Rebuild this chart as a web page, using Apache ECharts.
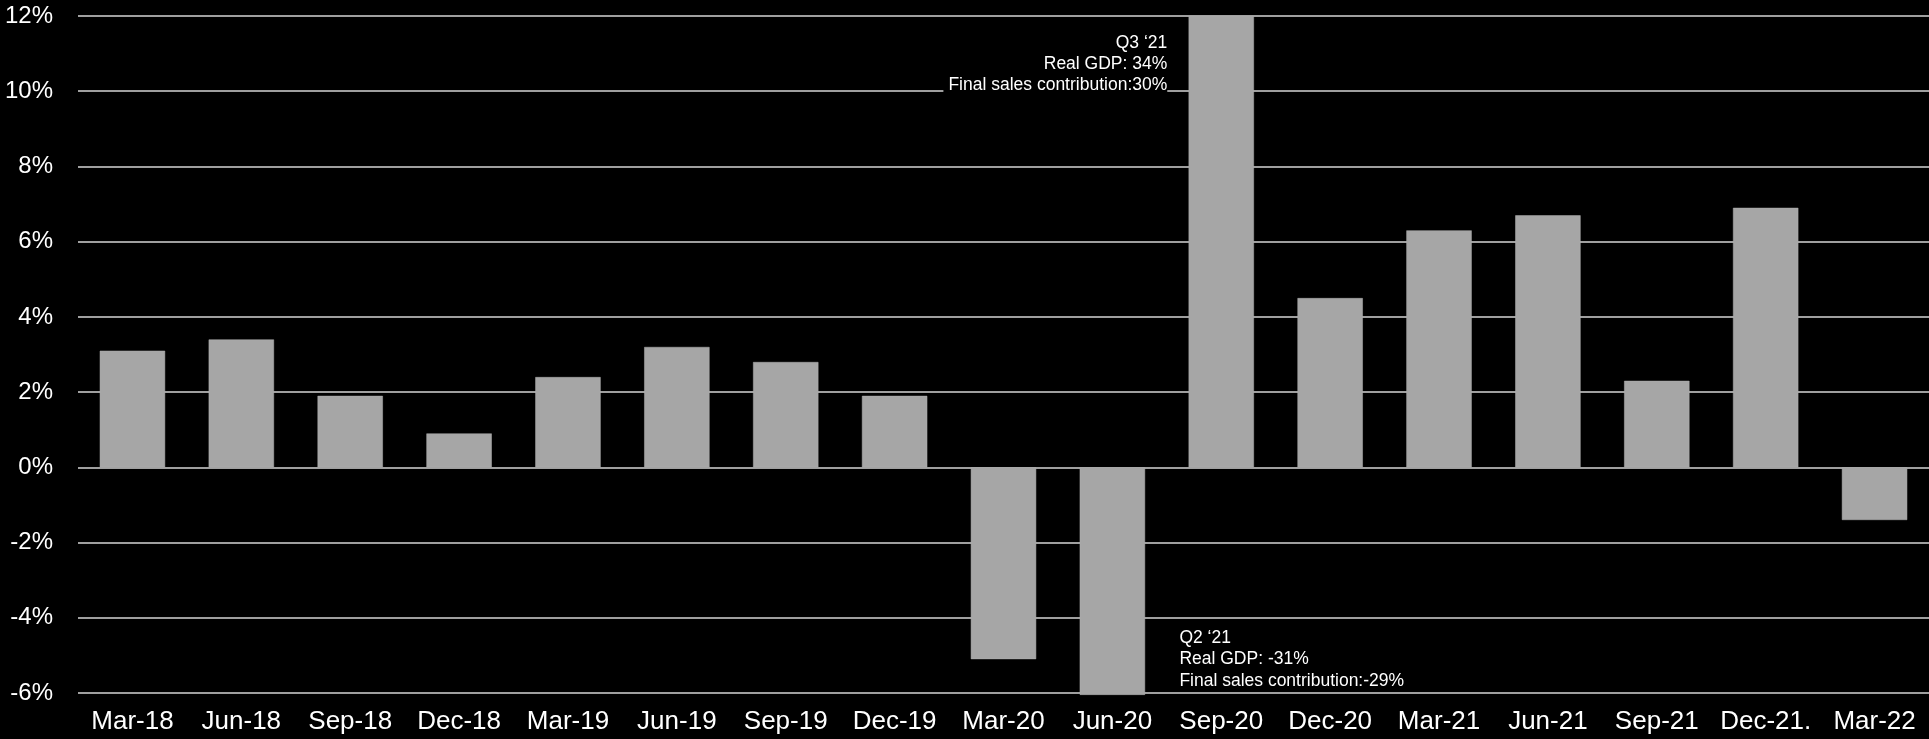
<!DOCTYPE html>
<html>
<head>
<meta charset="utf-8">
<title>Real GDP</title>
<script src="https://cdn.jsdelivr.net/npm/echarts@6/dist/echarts.min.js"></script>
<style>
  html, body { margin: 0; padding: 0; background: #000; }
  #chart { width: 1929px; height: 739px; }
</style>
</head>
<body>
<div id="chart"></div>
<script>
// quarters on the x axis
var quarters = ['Mar-18', 'Jun-18', 'Sep-18', 'Dec-18', 'Mar-19', 'Jun-19', 'Sep-19', 'Dec-19',
  'Mar-20', 'Jun-20', 'Sep-20', 'Dec-20', 'Mar-21', 'Jun-21', 'Sep-21', 'Dec-21.', 'Mar-22'];
// real GDP growth, % (Jun-20 / Sep-20 run off the chart)
var gdp = [3.1, 3.4, 1.9, 0.9, 2.4, 3.2, 2.8, 1.9, -5.1, -6.05, 12, 4.5, 6.3, 6.7, 2.3, 6.9, -1.4];

var noteHigh = "Q3 \u201821\nReal GDP: 34%\nFinal sales contribution:30%";
var noteLow = "Q2 \u201821\nReal GDP: -31%\nFinal sales contribution:-29%";

var myChart = echarts.init(document.getElementById('chart'));

myChart.setOption({
  backgroundColor: '#000',
  animation: false,
  textStyle: { fontFamily: 'Liberation Sans, Arial, sans-serif' },
  grid: { left: 78, right: -1, top: 16, bottom: 46 },
  xAxis: {
    type: 'category',
    data: quarters,
    axisLine: { show: false, onZero: false },
    axisTick: { show: false },
    axisLabel: { color: '#fff', fontSize: 26, margin: 16, interval: 0, hideOverlap: false }
  },
  yAxis: {
    type: 'value',
    min: -6,
    max: 12,
    interval: 2,
    axisLabel: { color: '#fff', fontSize: 24, margin: 25, formatter: '{value}%' },
    splitLine: { lineStyle: { color: '#d4d4d4', width: 1.5 } }
  },
  series: [
    {
      type: 'bar',
      data: gdp,
      clip: false,
      barCategoryGap: '40%',
      itemStyle: { color: '#a6a6a6', borderColor: '#b0b0b0', borderWidth: 0.5 },
      markPoint: {
        symbol: 'circle',
        symbolSize: 0,
        silent: true,
        data: [
          {
            coord: ['Sep-20', 12],
            label: {
              show: true, formatter: noteHigh, position: [-54, 17],
              align: 'right', verticalAlign: 'top',
              color: '#fff', fontSize: 17.5, lineHeight: 21,
              backgroundColor: '#000', padding: [0, 0, 0, 5]
            }
          },
          {
            coord: ['Jun-20', -6],
            label: {
              show: true, formatter: noteLow, position: [67, -66],
              align: 'left', verticalAlign: 'top',
              color: '#fff', fontSize: 17.5, lineHeight: 21.5
            }
          }
        ]
      }
    }
  ]
});
</script>
</body>
</html>
